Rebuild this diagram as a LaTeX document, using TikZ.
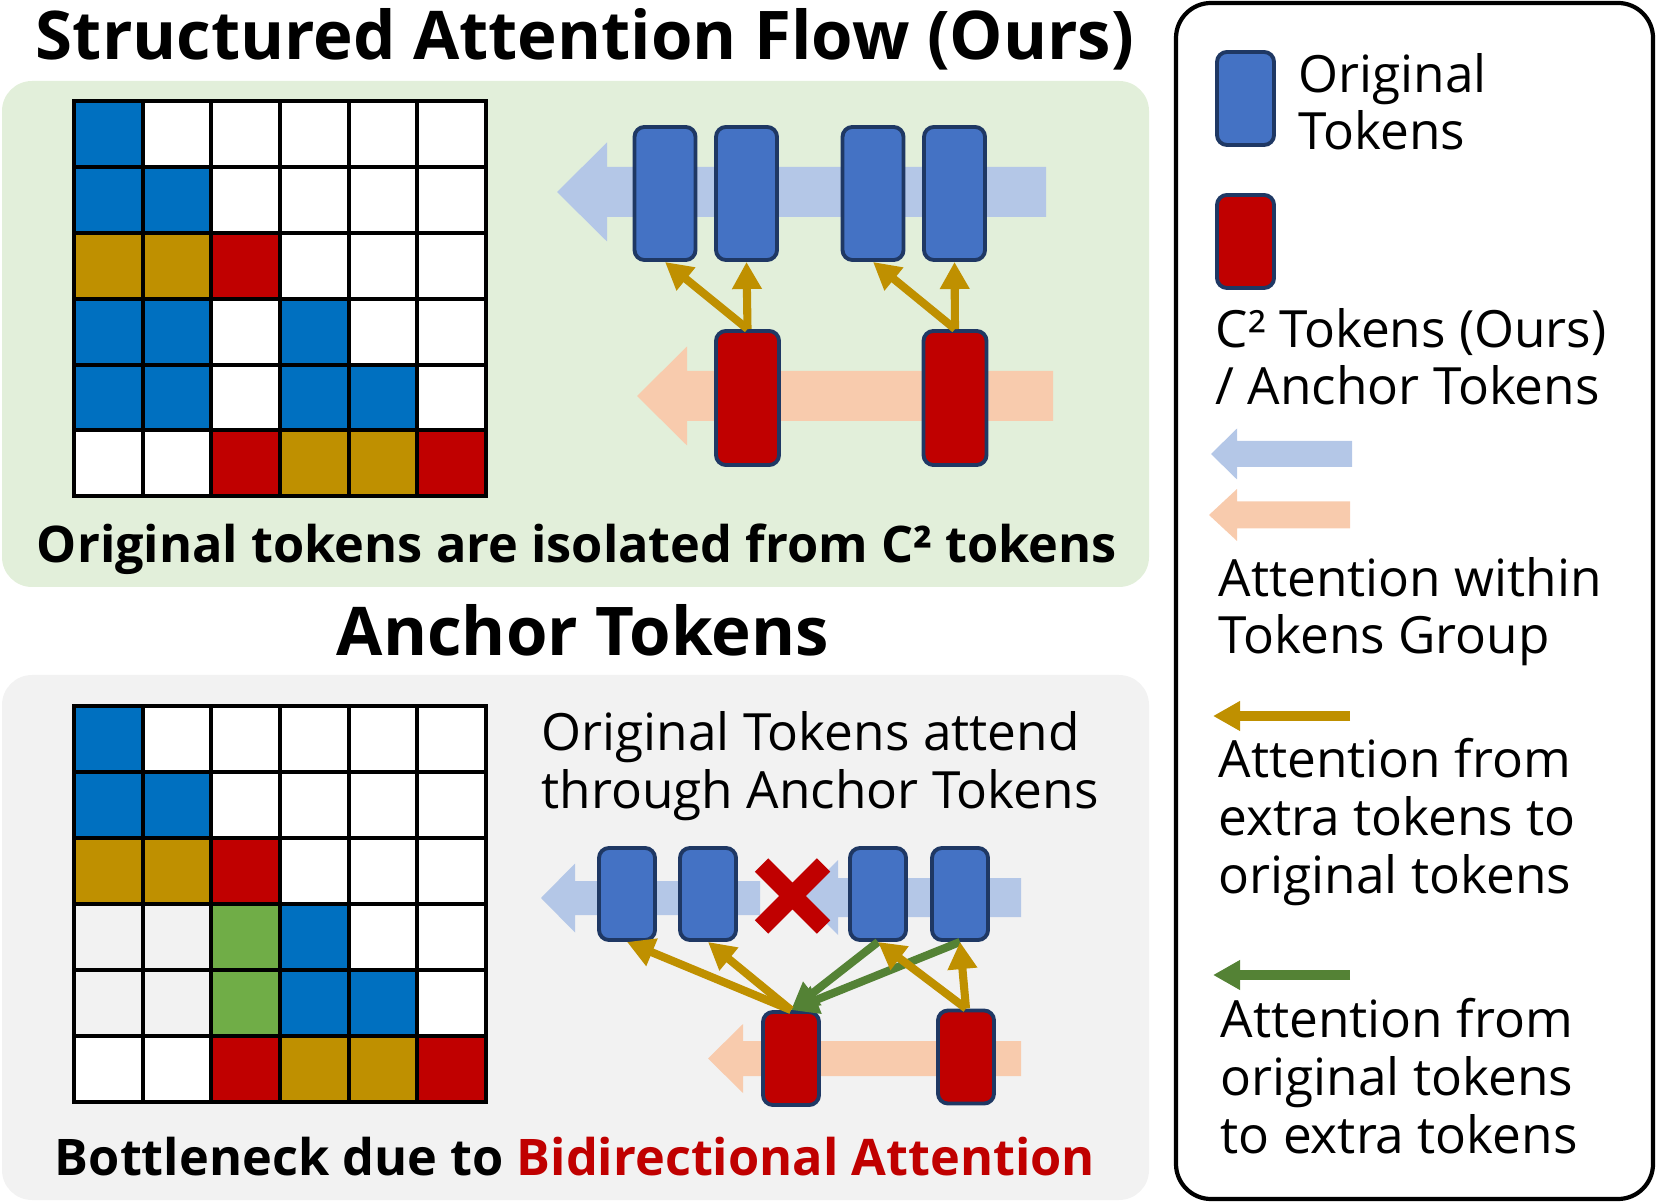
\documentclass[tikz,border=0pt]{standalone}
\usepackage{fontspec}
\setmainfont{Open Sans}
\usepackage{tikz}
\usetikzlibrary{arrows.meta,positioning}

\definecolor{cb}{HTML}{0070C0}
\definecolor{cg}{HTML}{BF9000}
\definecolor{cr}{HTML}{C00000}
\definecolor{cn}{HTML}{70AD47}
\definecolor{cl}{HTML}{F2F2F2}
\definecolor{cw}{HTML}{FFFFFF}
\definecolor{tokblue}{HTML}{4472C4}
\definecolor{tokred}{HTML}{C00000}
\definecolor{tokline}{HTML}{1F3864}
\definecolor{flowblue}{HTML}{B4C7E7}
\definecolor{floworange}{HTML}{F8CBAD}
\definecolor{arrgold}{HTML}{BF9000}
\definecolor{arrgreen}{HTML}{548235}
\definecolor{panelgreen}{HTML}{E2EFDA}
\definecolor{panelgray}{HTML}{F2F2F2}

% wide arrow: colour, tip x, tail x, y, half shaft, half head, head length
\newcommand\flowarrow[7]{\fill[#1] (#2,#4) -- (#2+#7,#4-#6) -- (#2+#7,#4-#5) -- (#3,#4-#5) -- (#3,#4+#5) -- (#2+#7,#4+#5) -- (#2+#7,#4+#6) -- cycle;}

\begin{document}
\begin{tikzpicture}[x=0.01cm,y=-0.01cm,
    font=\fontsize{14.6}{16.4}\selectfont,
    token/.style={draw=tokline,line width=1.1pt,rounded corners=0.1cm,inner sep=0pt},
    origtok/.style={token,fill=tokblue,minimum width=0.61cm,minimum height=1.33cm},
    c2tok/.style={token,fill=tokred,minimum width=0.63cm,minimum height=1.34cm},
    origsmall/.style={token,fill=tokblue,minimum width=0.56cm,minimum height=0.92cm},
    c2small/.style={token,fill=tokred,minimum width=0.56cm,minimum height=0.93cm},
    cell/.style={draw=black,line width=1.15pt,minimum width=0.6867cm,minimum height=0.659cm,inner sep=0pt},
    goldarr/.style={draw=arrgold,line width=2.3pt,-{Triangle[width=8pt,length=7.7pt]}},
    greenarr/.style={draw=arrgreen,line width=2.3pt,-{Triangle[width=8pt,length=7.7pt]}},
    bigtitle/.style={font=\bfseries\fontsize{19.1}{23}\selectfont,inner sep=0pt},
    caption/.style={font=\bfseries\fontsize{14.35}{17}\selectfont,inner sep=0pt},
    legtext/.style={anchor=base west,align=left,inner sep=0pt}]
  \useasboundingbox (0,0) rectangle (1661,1204);

  % panels
  \fill[panelgreen,rounded corners=0.3cm] (2,81) rectangle (1149,587);
  \fill[panelgray,rounded corners=0.3cm] (2,675) rectangle (1149,1200);

  % titles
  \node[bigtitle,anchor=base] (title) at (585,60) {Structured Attention Flow (Ours)};
  \node[caption,anchor=base] (cap1) at (577,563) {Original tokens are isolated from C² tokens};
  \node[bigtitle,anchor=base] (head2) at (583,656) {Anchor Tokens};
  \node[caption,anchor=base] (cap2) at (575,1175) {Bottleneck due to \textcolor{cr}{Bidirectional Attention}};

  % upper attention mask
  \foreach \c [count=\i from 0] in {cb,cw,cw,cw,cw,cw,cb,cb,cw,cw,cw,cw,cg,cg,cr,cw,cw,cw,cb,cb,cw,cb,cw,cw,cb,cb,cw,cb,cb,cw,cw,cw,cr,cg,cg,cr}{
    \pgfmathtruncatemacro\row{\i/6}
    \pgfmathtruncatemacro\col{mod(\i,6)}
    \node[cell,fill=\c] (u\i) at ({74+68.67*(\col+0.5)},{101+65.9*(\row+0.5)}) {};
  }
  % lower attention mask
  \foreach \c [count=\i from 0] in {cb,cw,cw,cw,cw,cw,cb,cb,cw,cw,cw,cw,cg,cg,cr,cw,cw,cw,cl,cl,cn,cb,cw,cw,cl,cl,cn,cb,cb,cw,cw,cw,cr,cg,cg,cr}{
    \pgfmathtruncatemacro\row{\i/6}
    \pgfmathtruncatemacro\col{mod(\i,6)}
    \node[cell,fill=\c] (l\i) at ({74+68.67*(\col+0.5)},{706+66*(\row+0.5)}) {};
  }

  % upper flow
  \flowarrow{flowblue}{557}{1046}{192}{25}{49.5}{50}
  \flowarrow{floworange}{637}{1053}{396}{25}{49.5}{50}
  \node[origtok] (t1) at (665,193.5) {};
  \node[origtok] (t2) at (746.5,193.5) {};
  \node[origtok] (t3) at (873,193.5) {};
  \node[origtok] (t4) at (954.5,193.5) {};
  \node[c2tok] (r1) at (747.5,398) {};
  \node[c2tok] (r2) at (955,398) {};
  \draw[goldarr] (r1.north) -- (t1.south);
  \draw[goldarr] (r1.north) -- (t2.south);
  \draw[goldarr] (r2.north) -- (t3.south);
  \draw[goldarr] (r2.north) -- (t4.south);

  % lower flow
  \node[legtext] (note) at (541,808) {Original Tokens attend\\through Anchor Tokens};
  \flowarrow{flowblue}{541}{760}{898}{17}{34.5}{34}
  \flowarrow{flowblue}{801}{1021}{897.5}{19.5}{37.5}{37}
  \flowarrow{floworange}{708}{1021}{1058.5}{17.5}{34.5}{35}
  \node[origsmall] (b1) at (627,894) {};
  \node[origsmall] (b2) at (708,894) {};
  \node[origsmall] (b3) at (878,894) {};
  \node[origsmall] (b4) at (960,894) {};
  \node[c2small] (a1) at (791,1058.5) {};
  \node[c2small] (a2) at (966,1057) {};
  \coordinate (block) at (792.5,896);
  \draw[cr,line width=5.4pt] (block) +(-31,-31) -- +(31,31) (block) +(-31,31) -- +(31,-31);
  \draw[greenarr] (b3.south) -- (a1.north);
  \draw[greenarr] (b4.south) -- (a1.north);
  \draw[goldarr] (a1.north) -- (b1.south);
  \draw[goldarr] (a1.north) -- (b2.south);
  \draw[goldarr] (a2.north) -- (b3.south);
  \draw[goldarr] (a2.north) -- (b4.south);

  % legend
  \draw[line width=1.2pt,rounded corners=0.35cm] (1176,3) rectangle (1653,1199);
  \node[token,fill=tokblue,minimum width=0.57cm,minimum height=0.93cm] (lt1) at (1245.5,98.5) {};
  \node[legtext] (ltx1) at (1298,150) {Original\\Tokens};
  \node[token,fill=tokred,minimum width=0.57cm,minimum height=0.93cm] (lt2) at (1245.5,241.5) {};
  \node[legtext] (ltx2) at (1215,405) {C² Tokens (Ours)\\/ Anchor Tokens};
  \flowarrow{flowblue}{1211}{1352}{454}{13}{25.5}{26}
  \flowarrow{floworange}{1209}{1350}{515}{13.5}{26}{28}
  \node[legtext] (ltx3) at (1218,654) {Attention within\\Tokens Group};
  \coordinate (lg1) at (1350,716);
  \coordinate (lg2) at (1213,716);
  \draw[goldarr,line width=2.6pt] (lg1) -- (lg2);
  \node[legtext] (ltx4) at (1218,893) {Attention from\\extra tokens to\\original tokens};
  \coordinate (ln1) at (1350,975);
  \coordinate (ln2) at (1213,975);
  \draw[greenarr,line width=2.6pt] (ln1) -- (ln2);
  \node[legtext] (ltx5) at (1220,1153) {Attention from\\original tokens\\to extra tokens};
\end{tikzpicture}
\end{document}
